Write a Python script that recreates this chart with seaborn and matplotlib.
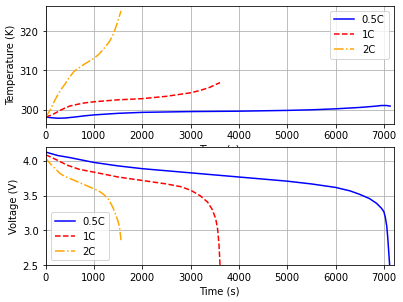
import matplotlib
matplotlib.use("Agg")
import matplotlib.pyplot as plt
import seaborn as sns
import pandas as pd

# 데이터
labels = ["0.5C", "1C", "2C"]
colors = ["blue", "red", "orange"]
styles = ["-", "--", "-."]

# 온도 (K)
t_temp_05 = [0, 100, 250, 400, 600, 800, 1000, 1500, 2000, 3000, 4000, 5000, 5500, 6000, 6500, 6800, 6950, 7050, 7130]
temp_05 = [298.15, 297.95, 297.8, 297.85, 298.1, 298.4, 298.65, 299.05, 299.3, 299.5, 299.6, 299.8, 299.95, 300.2, 300.55, 300.85, 301.05, 301.05, 300.9]
t_temp_1 = [0, 100, 200, 300, 400, 500, 600, 800, 1000, 1500, 2000, 2500, 3000, 3200, 3400, 3500, 3610]
temp_1 = [298.15, 298.5, 299.1, 299.8, 300.4, 300.9, 301.2, 301.7, 302.0, 302.5, 302.8, 303.4, 304.3, 304.9, 305.7, 306.3, 306.9]
t_temp_2 = [0, 50, 100, 200, 300, 400, 500, 600, 800, 1000, 1100, 1200, 1300, 1350, 1400, 1450, 1500, 1530, 1560]
temp_2 = [298.15, 299.0, 300.0, 302.6, 304.8, 306.5, 308.4, 309.9, 311.6, 313.1, 314.1, 315.5, 317.0, 318.0, 319.3, 320.9, 322.8, 324.0, 325.2]

# 전압 (V)
t_volt_05 = [0, 250, 500, 1000, 1500, 2000, 3000, 4000, 5000, 5500, 6000, 6300, 6500, 6700, 6850, 6950, 7000, 7030, 7060, 7080, 7100, 7120]
volt_05 = [4.13, 4.08, 4.05, 3.98, 3.93, 3.89, 3.83, 3.77, 3.71, 3.67, 3.62, 3.57, 3.52, 3.46, 3.39, 3.32, 3.27, 3.19, 3.06, 2.90, 2.70, 2.50]
t_volt_1 = [0, 100, 250, 450, 700, 1000, 1500, 2000, 2500, 2800, 3000, 3200, 3350, 3450, 3520, 3560, 3590, 3610]
volt_1 = [4.09, 4.06, 4.01, 3.94, 3.88, 3.84, 3.77, 3.72, 3.67, 3.63, 3.58, 3.50, 3.41, 3.30, 3.17, 3.02, 2.78, 2.50]
t_volt_2 = [0, 50, 100, 200, 300, 400, 600, 800, 1000, 1100, 1200, 1300, 1350, 1400, 1450, 1500, 1530, 1550, 1560]
volt_2 = [4.04, 4.0, 3.96, 3.89, 3.82, 3.78, 3.72, 3.66, 3.60, 3.57, 3.52, 3.45, 3.39, 3.32, 3.23, 3.13, 3.05, 2.93, 2.86]

temp_t = [t_temp_05, t_temp_1, t_temp_2]
temp_v = [temp_05, temp_1, temp_2]
volt_t = [t_volt_05, t_volt_1, t_volt_2]
volt_v = [volt_05, volt_1, volt_2]

fig, (ax1, ax2) = plt.subplots(2, 1, figsize=(5.6, 4.2), dpi=72)
fig.subplots_adjust(left=0.113, right=0.976, top=0.98, bottom=0.122, hspace=0.2)

# 온도 그래프
for t, v, lab, c, ls in zip(temp_t, temp_v, labels, colors, styles):
    df = pd.DataFrame({"t": t, "v": v})
    sns.lineplot(data=df, x="t", y="v", sort=False, color=c, linestyle=ls, linewidth=1.5, label=lab, ax=ax1)
ax1.set_xlim(0, 7200)
ax1.set_xlabel("Time (s)")
ax1.set_ylabel("Temperature (K)")
ax1.grid(True)
ax1.legend(loc="upper right")

# 전압 그래프
for t, v, lab, c, ls in zip(volt_t, volt_v, labels, colors, styles):
    df = pd.DataFrame({"t": t, "v": v})
    sns.lineplot(data=df, x="t", y="v", sort=False, color=c, linestyle=ls, linewidth=1.5, label=lab, ax=ax2)
ax2.set_xlim(0, 7200)
ax2.set_ylim(2.5, 4.2)
ax2.set_yticks([2.5, 3.0, 3.5, 4.0])
ax2.set_xlabel("Time (s)")
ax2.set_ylabel("Voltage (V)")
ax2.grid(True)
ax2.legend(loc="lower left")

plt.savefig("out.png", dpi=72)
